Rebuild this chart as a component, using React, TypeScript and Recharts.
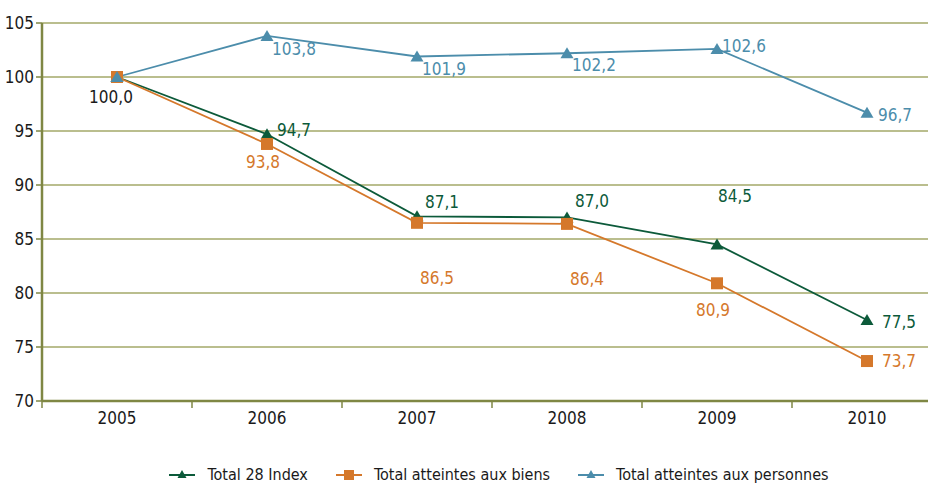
import { CartesianGrid, LabelList, Line, LineChart, XAxis, YAxis } from 'recharts';

const years = [2005, 2006, 2007, 2008, 2009, 2010];
const total28 = [100.0, 94.7, 87.1, 87.0, 84.5, 77.5];
const biens = [100.0, 93.8, 86.5, 86.4, 80.9, 73.7];
const personnes = [100.0, 103.8, 101.9, 102.2, 102.6, 96.7];
const yTicks = [70, 75, 80, 85, 90, 95, 100, 105];
const xTicks = [2004.5, 2005, 2005.5, 2006, 2006.5, 2007, 2007.5, 2008, 2008.5, 2009, 2009.5, 2010, 2010.5];

const GREEN = '#0c5a3a';
const ORANGE = '#d5782b';
const BLUE = '#4c8dab';
const AXIS = '#7f8744';
const GRID = '#a3a968';
const FONT = '"Liberation Sans Narrow", "DejaVu Sans Condensed", Arial, sans-serif';

// label offsets (dx, dy) from each point, null = no label
const greenOffsets: ([number, number] | null)[] = [null, [27, -3], [25, -13], [25, -15], [18, -47], [32, 3]];
const orangeOffsets: ([number, number] | null)[] = [null, [-4, 19], [20, 56], [20, 56], [-4, 28], [32, 1]];
const blueOffsets: ([number, number] | null)[] = [[-6, 21], [27, 14], [27, 14], [27, 13], [27, -2], [28, 3]];

const data = years.map((year, i) => ({
	year,
	total28: total28[i],
	biens: biens[i],
	personnes: personnes[i],
}));

const fmt = (v: number) => v.toFixed(1).replace('.', ',');

const Triangle = ({ cx, cy, color }: { cx: number; cy: number; color: string }) => (
	<path d={`M${cx},${cy - 6} L${cx + 6.5},${cy + 5} L${cx - 6.5},${cy + 5} Z`} fill={color} />
);

const Square = ({ cx, cy, color }: { cx: number; cy: number; color: string }) => (
	<rect x={cx - 6} y={cy - 6} width={12} height={12} fill={color} />
);

const makeLabel = (offsets: ([number, number] | null)[], color: string) => (props: any) => {
	const { x, y, value, index } = props;
	const off = offsets[index];
	if (!off) return null;
	return (
		<text
			x={x + off[0]}
			y={y + off[1]}
			fill={index === 0 ? '#1a1a1a' : color}
			fontSize={17}
			fontFamily={FONT}
			textAnchor="middle"
			dominantBaseline="middle"
		>
			{fmt(value)}
		</text>
	);
};

const XTick = (props: any) => {
	const { x, y, payload } = props;
	const v = payload.value as number;
	if (Number.isInteger(v)) {
		return (
			<text x={x} y={y + 23} fill="#1a1a1a" fontSize={17} fontFamily={FONT} textAnchor="middle">
				{v}
			</text>
		);
	}
	return <line x1={x} x2={x} y1={y} y2={y + 7} stroke={AXIS} strokeWidth={1.5} />;
};

const legendItems = [
	{ name: 'Total 28 Index', color: GREEN, shape: 'tri' },
	{ name: 'Total atteintes aux biens', color: ORANGE, shape: 'sq' },
	{ name: 'Total atteintes aux personnes', color: BLUE, shape: 'tri' },
];

export default function App() {
	return (
		<div
			style={{
				position: 'absolute',
				left: 0,
				top: 0,
				width: 928,
				height: 487,
				overflow: 'hidden',
				background: '#fff',
			}}
		>
			<LineChart width={950} height={487} data={data} margin={{ top: 23, right: 8, bottom: 56, left: 0 }}>
				<CartesianGrid vertical={false} stroke={GRID} strokeWidth={1.5} />
				<XAxis
					dataKey="year"
					type="number"
					domain={[2004.5, 2010.5]}
					ticks={xTicks}
					interval={0}
					tickLine={false}
					tickSize={0}
					tickMargin={0}
					axisLine={{ stroke: AXIS, strokeWidth: 2.5 }}
					tick={<XTick />}
					height={30}
				/>
				<YAxis
					domain={[70, 105]}
					ticks={yTicks}
					interval={0}
					width={42}
					tickSize={6}
					tickMargin={2}
					tickLine={{ stroke: AXIS, strokeWidth: 1.5 }}
					axisLine={{ stroke: AXIS, strokeWidth: 2.5 }}
					tick={{ fill: '#1a1a1a', fontSize: 17, fontFamily: FONT }}
				/>
				<Line
					dataKey="total28"
					stroke={GREEN}
					strokeWidth={1.8}
					isAnimationActive={false}
					dot={(p: any) => <Triangle key={p.index} cx={p.cx} cy={p.cy} color={GREEN} />}
				>
					<LabelList content={makeLabel(greenOffsets, GREEN)} />
				</Line>
				<Line
					dataKey="biens"
					stroke={ORANGE}
					strokeWidth={1.8}
					isAnimationActive={false}
					dot={(p: any) => <Square key={p.index} cx={p.cx} cy={p.cy} color={ORANGE} />}
				>
					<LabelList content={makeLabel(orangeOffsets, ORANGE)} />
				</Line>
				<Line
					dataKey="personnes"
					stroke={BLUE}
					strokeWidth={1.8}
					isAnimationActive={false}
					dot={(p: any) => <Triangle key={p.index} cx={p.cx} cy={p.cy} color={BLUE} />}
				>
					<LabelList content={makeLabel(blueOffsets, BLUE)} />
				</Line>
			</LineChart>
			<div
				style={{
					position: 'absolute',
					top: 465,
					left: 0,
					width: 928,
					display: 'flex',
					justifyContent: 'center',
					gap: 28,
					fontFamily: FONT,
					fontSize: 16,
					color: '#1a1a1a',
					paddingLeft: 70,
					boxSizing: 'border-box',
				}}
			>
				{legendItems.map(item => (
					<div key={item.name} style={{ display: 'flex', alignItems: 'center', gap: 12 }}>
						<svg width={26} height={14}>
							<line x1={0} x2={26} y1={7} y2={7} stroke={item.color} strokeWidth={2} />
							{item.shape === 'tri' ? (
								<path d="M13,2 L17.5,10 L8.5,10 Z" fill={item.color} />
							) : (
								<rect x={8} y={2} width={10} height={10} fill={item.color} />
							)}
						</svg>
						<span>{item.name}</span>
					</div>
				))}
			</div>
		</div>
	);
}
